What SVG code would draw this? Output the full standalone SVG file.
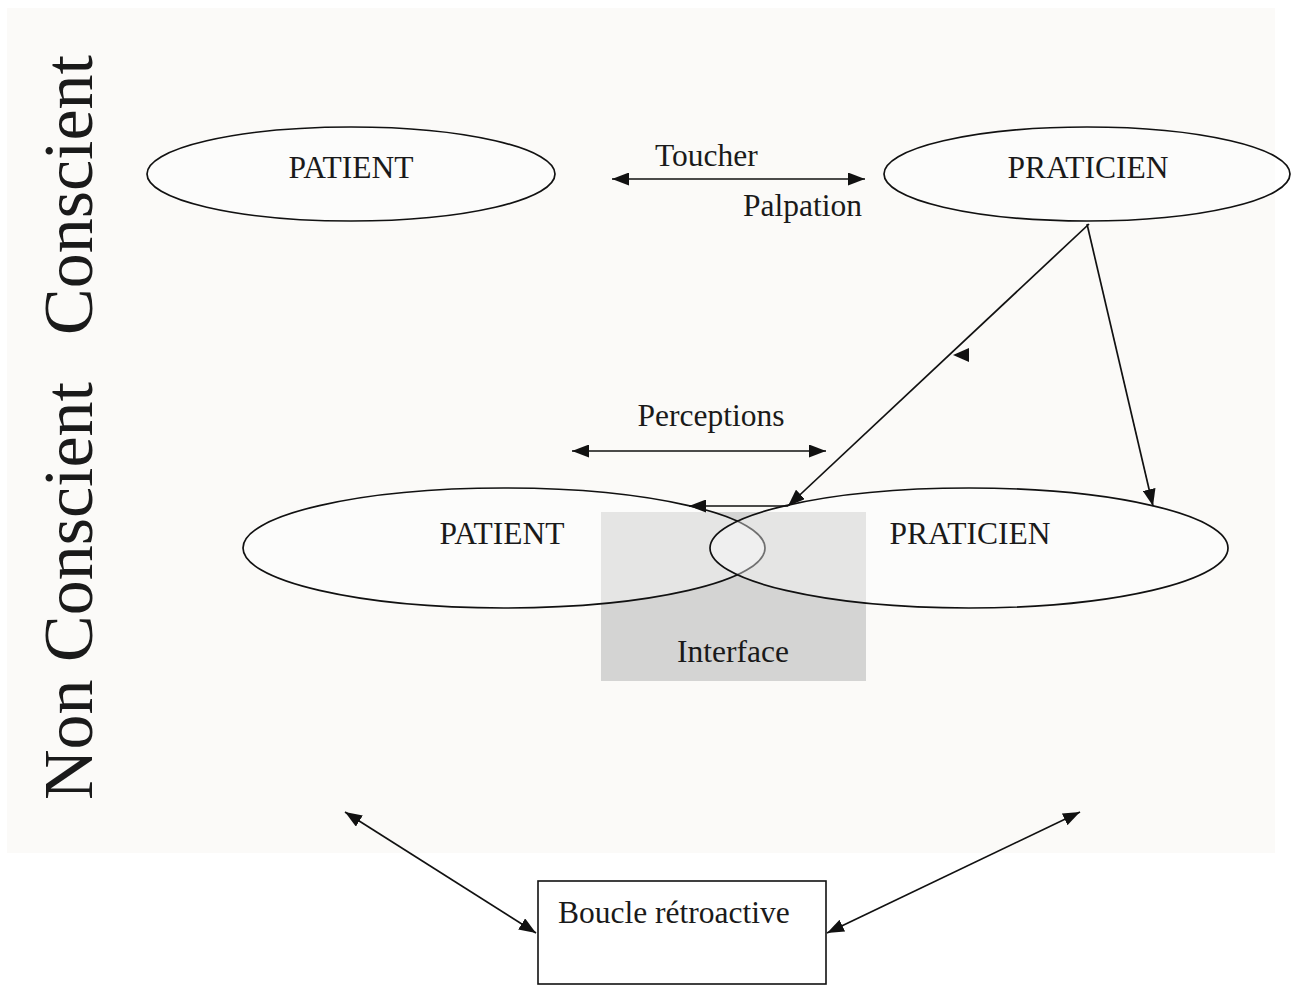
<svg xmlns="http://www.w3.org/2000/svg" width="1293" height="985" viewBox="0 0 1293 985">
<style>
.lbl{font-family:"Liberation Serif","Times New Roman",serif;font-size:31.5px;fill:#1a1a1a}
.big{font-family:"Liberation Serif","Times New Roman",serif;font-size:70px;fill:#1a1a1a}
.ell{fill:#ffffff;fill-opacity:0.4;stroke:#111;stroke-width:1.7}
.ln{stroke:#111;stroke-width:1.7;fill:none}
</style>
<defs>
<marker id="ah" viewBox="0 0 17 13" refX="17" refY="6.5" markerWidth="17" markerHeight="13" markerUnits="userSpaceOnUse" orient="auto-start-reverse">
<path d="M0,0 L17,6.5 L0,13 Z" fill="#111"/>
</marker>
</defs>
<rect x="0" y="0" width="1293" height="985" fill="#ffffff"/>
<rect x="7" y="8" width="1268" height="845" fill="#fbfaf8"/>
<text class="big" transform="translate(92,335) rotate(-90)">Conscient</text>
<text class="big" transform="translate(92,800) rotate(-90)">Non Conscient</text>
<g id="interface">
<rect x="601" y="512" width="265" height="169" fill="#d4d4d3"/>
<text class="lbl" x="733" y="662" text-anchor="middle">Interface</text>
</g>
<g id="patient-top">
<ellipse class="ell" cx="351" cy="174" rx="204" ry="47"/>
<text class="lbl" x="351" y="178" text-anchor="middle">PATIENT</text>
</g>
<g id="praticien-top">
<ellipse class="ell" cx="1087" cy="174" rx="203" ry="47"/>
<text class="lbl" x="1088" y="178" text-anchor="middle">PRATICIEN</text>
</g>
<g id="patient-bottom">
<ellipse class="ell" cx="504" cy="548" rx="261" ry="60"/>
<text class="lbl" x="502" y="544" text-anchor="middle">PATIENT</text>
</g>
<g id="praticien-bottom">
<ellipse class="ell" cx="969" cy="548" rx="259" ry="60"/>
<text class="lbl" x="970" y="544" text-anchor="middle">PRATICIEN</text>
</g>
<g id="boucle">
<rect x="538" y="881" width="288" height="103" fill="#ffffff" stroke="#111" stroke-width="1.6"/>
<text class="lbl" x="558" y="923">Boucle rétroactive</text>
</g>
<g id="connectors">
<line class="ln" x1="612" y1="179" x2="865" y2="179" marker-start="url(#ah)" marker-end="url(#ah)"/>
<text class="lbl" x="655" y="166">Toucher</text>
<text class="lbl" x="743" y="216">Palpation</text>
<line class="ln" x1="572" y1="451" x2="826" y2="451" marker-start="url(#ah)" marker-end="url(#ah)"/>
<text class="lbl" x="711" y="426" text-anchor="middle">Perceptions</text>
<line class="ln" x1="1089" y1="224" x2="788" y2="506" marker-end="url(#ah)"/>
<line class="ln" x1="788" y1="506" x2="689" y2="506" marker-end="url(#ah)"/>
<path d="M953,355 L969,348 L969,362 Z" fill="#111"/>
<line class="ln" x1="1087" y1="224" x2="1153" y2="506" marker-end="url(#ah)"/>
<line class="ln" x1="345" y1="812" x2="536" y2="933" marker-start="url(#ah)" marker-end="url(#ah)"/>
<line class="ln" x1="1080" y1="812" x2="827" y2="933" marker-start="url(#ah)" marker-end="url(#ah)"/>
</g>
</svg>
